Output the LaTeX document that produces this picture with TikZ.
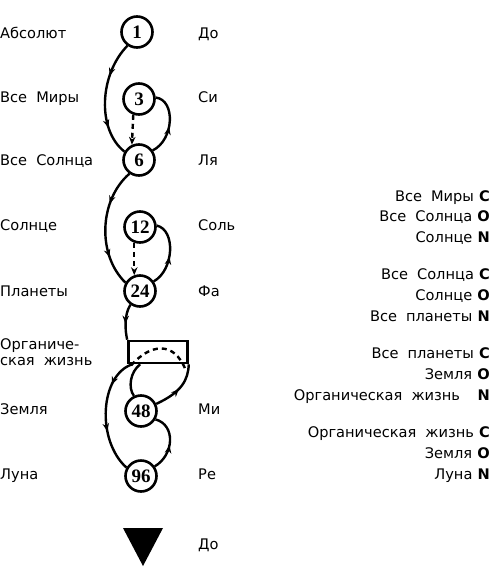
\documentclass[tikz,border=0pt]{standalone}
\usepackage{fontspec}
\setmainfont{DejaVu Sans}
\newfontfamily\numfont{Liberation Serif}
\usetikzlibrary{arrows.meta,decorations.markings}

\newcommand{\widesp}{\spaceskip=0.62em\relax}
\tikzset{
  label/.style={font=\fontsize{14.6}{16}\selectfont\widesp, inner sep=0pt, anchor=base west},
  pair/.style={font=\fontsize{14.6}{16}\selectfont\widesp, inner sep=0pt, anchor=base east},
  world/.style={circle, draw, line width=2.6pt, minimum size=31pt, inner sep=0pt,
    font=\numfont\bfseries\fontsize{19}{19}\selectfont},
  flow/.style={line width=2.4pt},
  back/.style={flow, dash pattern=on 5pt off 4pt},
  tip/.tip={Stealth[length=8pt,width=6.5pt]},
  midtip/.style={postaction={decorate}, decoration={markings,
    mark=at position #1 with {\arrow{tip}}}},
  twotips/.style 2 args={postaction={decorate}, decoration={markings,
    mark=at position #1 with {\arrow{tip}}, mark=at position #2 with {\arrow{tip}}}}
}
\newcommand{\lt}[1]{\hspace{0.35em}\textbf{#1}}

\begin{document}
\begin{tikzpicture}[x=1pt,y=-1pt]
\useasboundingbox (0,0) rectangle (492,579);

% the ray
\node[world] (n1) at (137,32) {1};
\node[world] (n3) at (139,99) {3};
\node[world] (n6) at (139,160) {6};
\node[world] (n12) at (140,227) {12};
\node[world] (n24) at (140,291) {24};
\node[draw, line width=2.6pt, minimum width=59pt, minimum height=22pt, inner sep=0pt] (org) at (158,352) {};
\node[world] (n48) at (141,411) {48};
\node[world] (n96) at (141,476) {96};
\fill (123,528) -- (163,528) -- (143,566) -- cycle;

\draw[flow, twotips={0.3}{0.75}] (n1.235) .. controls (99,75) and (97,130) .. (n6.150);
\draw[back, -tip] (n3.250) -- (n6.115);
\draw[flow, midtip=0.45] (n6.35) .. controls (174,140) and (176,100) .. (n3.5);

\draw[flow, twotips={0.3}{0.75}] (n6.235) .. controls (99,200) and (97,255) .. (n24.150);
\draw[back, -tip] (n12.250) -- (n24.110);
\draw[flow, midtip=0.45] (n24.35) .. controls (174,270) and (176,230) .. (n12.5);

\draw[flow, midtip=0.55] (n24.235) .. controls (124,315) and (125,330) .. (org.north west);
\draw[back] ([xshift=4pt,yshift=-1pt]org.south west) .. controls (150,344) and (174,340) .. ([xshift=-3pt,yshift=-6pt]org.south east);

\draw[flow, twotips={0.25}{0.65}] ([xshift=5pt]org.south west) .. controls (100,375) and (96,440) .. (n96.150);
\draw[flow] ([xshift=13pt]org.south west) .. controls (130,372) and (128,388) .. (n48.115);
\draw[flow, midtip=0.5] (n48.25) .. controls (182,392) and (188,380) .. (org.south east);
\draw[flow, midtip=0.45] (n96.35) .. controls (174,455) and (176,425) .. (n48.330);

% left names
\node[label] (a1) at (0,38) {Абсолют};
\node[label] (a3) at (0,102) {Все Миры};
\node[label] (a6) at (0,165) {Все Солнца};
\node[label] (a12) at (0,230) {Солнце};
\node[label] (a24) at (0,296) {Планеты};
\node[label] (aorg) at (0,349) {Органиче-};
\node[label] (aorg2) at (0,365) {ская жизнь};
\node[label] (a48) at (0,414) {Земля};
\node[label] (a96) at (0,479) {Луна};

% notes
\node[label] (d1) at (198,38) {До};
\node[label] (d3) at (198,102) {Си};
\node[label] (d6) at (198,165) {Ля};
\node[label] (d12) at (198,230) {Соль};
\node[label] (d24) at (198,296) {Фа};
\node[label] (d48) at (198,414) {Ми};
\node[label] (d96) at (198,479) {Ре};
\node[label] (d0) at (198,549) {До};

% carbon, oxygen, nitrogen
\node[pair] (c1) at (490,201) {Все Миры\lt{C}};
\node[pair] (o1) at (490,221) {Все Солнца\lt{O}};
\node[pair] (n1x) at (490,242) {Солнце\lt{N}};
\node[pair] (c2) at (490,279) {Все Солнца\lt{C}};
\node[pair] (o2) at (490,300) {Солнце\lt{O}};
\node[pair] (n2x) at (490,321) {Все планеты\lt{N}};
\node[pair] (c3) at (490,358) {Все планеты\lt{C}};
\node[pair] (o3) at (490,379) {Земля\lt{O}};
\node[pair] (n3x) at (490,400) {Органическая жизнь\hspace{1.2em}\textbf{N}};
\node[pair] (c4) at (490,437) {Органическая жизнь\lt{C}};
\node[pair] (o4) at (490,458) {Земля\lt{O}};
\node[pair] (n4x) at (490,479) {Луна\lt{N}};
\end{tikzpicture}
\end{document}
